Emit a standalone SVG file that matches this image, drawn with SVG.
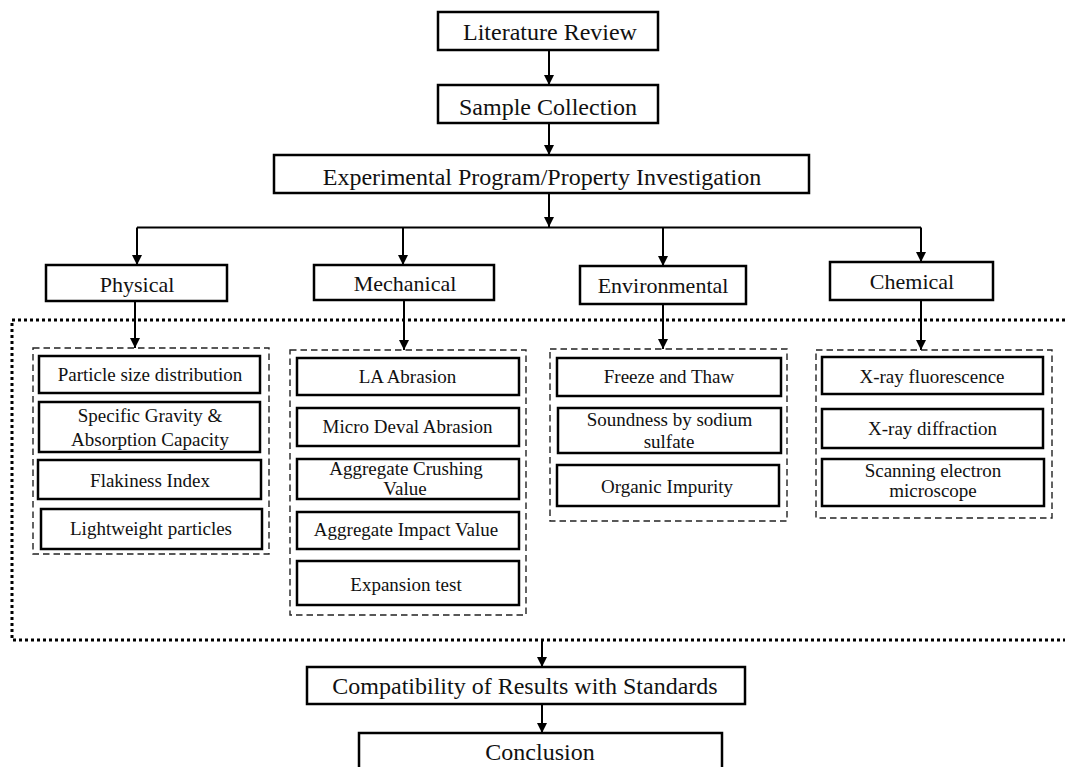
<svg xmlns="http://www.w3.org/2000/svg" width="1065" height="767" viewBox="0 0 1065 767">
<defs>
<marker id="ah" markerUnits="userSpaceOnUse" markerWidth="10" markerHeight="10" refX="10" refY="5" orient="auto">
<path d="M0,0 L10,5 L0,10 z" fill="#000"/>
</marker>
<style>
.box{fill:#fff;stroke:#000;stroke-width:2.5}
.dash{fill:none;stroke:#222;stroke-width:1.4;stroke-dasharray:6.5 4}
.dot{fill:none;stroke:#000;stroke-width:3;stroke-dasharray:3 3}
.ln{fill:none;stroke:#000;stroke-width:2}
.arr{fill:none;stroke:#000;stroke-width:2;marker-end:url(#ah)}
text{font-family:"Liberation Serif","Times New Roman",serif;fill:#111;text-anchor:middle}
.t1{font-size:24px}
.t2{font-size:22px}
.t3{font-size:19px}
</style>
</defs>
<rect width="1065" height="767" fill="#fff"/>

<g id="outer-region">
<path class="dot" d="M1065,320 H12 V640 H1065"/>
</g>

<g id="connectors">
<line class="arr" x1="549" y1="50" x2="549" y2="85"/>
<line class="arr" x1="549" y1="123" x2="549" y2="155"/>
<line class="arr" x1="549" y1="193" x2="549" y2="227"/>
<path class="ln" d="M137,227.5 H921"/>
<line class="arr" x1="137" y1="227.5" x2="137" y2="265"/>
<line class="arr" x1="403" y1="227.5" x2="403" y2="265"/>
<line class="arr" x1="663" y1="227.5" x2="663" y2="266"/>
<line class="arr" x1="921" y1="227.5" x2="921" y2="262"/>
<line class="arr" x1="135" y1="301" x2="135" y2="348"/>
<line class="arr" x1="404" y1="300" x2="404" y2="350"/>
<line class="arr" x1="663" y1="304" x2="663" y2="349"/>
<line class="arr" x1="921" y1="300" x2="921" y2="350"/>
<line class="arr" x1="542" y1="640" x2="542" y2="667"/>
<line class="arr" x1="542" y1="704" x2="542" y2="733"/>
</g>

<g id="literature-review">
<rect class="box" x="438" y="12" width="220" height="38"/>
<text class="t1" x="550" y="40">Literature Review</text>
</g>
<g id="sample-collection">
<rect class="box" x="438" y="85" width="220" height="38"/>
<text class="t1" x="548" y="115">Sample Collection</text>
</g>
<g id="experimental-program">
<rect class="box" x="274" y="155" width="535" height="38"/>
<text class="t1" x="542" y="185">Experimental Program/Property Investigation</text>
</g>

<g id="physical">
<rect class="box" x="46" y="265" width="181" height="36"/>
<text class="t2" x="137" y="292">Physical</text>
</g>
<g id="mechanical">
<rect class="box" x="314" y="265" width="180" height="35"/>
<text class="t2" x="405" y="291">Mechanical</text>
</g>
<g id="environmental">
<rect class="box" x="580" y="266" width="166" height="38"/>
<text class="t2" x="663" y="293">Environmental</text>
</g>
<g id="chemical">
<rect class="box" x="830" y="262" width="163" height="38"/>
<text class="t2" x="912" y="289">Chemical</text>
</g>

<g id="physical-tests">
<rect class="dash" x="33" y="348" width="236" height="206"/>
<g id="particle-size">
<rect class="box" x="39" y="356" width="221" height="37"/>
<text class="t3" x="150" y="381">Particle size distribution</text>
</g>
<g id="specific-gravity">
<rect class="box" x="39" y="402" width="221" height="50"/>
<text class="t3" x="150" y="421.5">Specific Gravity &amp;</text>
<text class="t3" x="150" y="445.5">Absorption Capacity</text>
</g>
<g id="flakiness">
<rect class="box" x="38" y="460" width="223" height="39"/>
<text class="t3" x="150" y="486.5">Flakiness Index</text>
</g>
<g id="lightweight">
<rect class="box" x="41" y="509" width="221" height="40"/>
<text class="t3" x="151" y="535">Lightweight particles</text>
</g>
</g>

<g id="mechanical-tests">
<rect class="dash" x="290" y="350" width="236" height="265"/>
<g id="la-abrasion">
<rect class="box" x="297" y="358" width="222" height="37"/>
<text class="t3" x="407.5" y="382.5">LA Abrasion</text>
</g>
<g id="micro-deval">
<rect class="box" x="297" y="408" width="222" height="38"/>
<text class="t3" x="407.5" y="432.5">Micro Deval Abrasion</text>
</g>
<g id="crushing-value">
<rect class="box" x="297" y="459" width="222" height="40"/>
<text class="t3" x="406" y="475">Aggregate Crushing</text>
<text class="t3" x="405" y="495">Value</text>
</g>
<g id="impact-value">
<rect class="box" x="297" y="512" width="222" height="37"/>
<text class="t3" x="406" y="535.5">Aggregate Impact Value</text>
</g>
<g id="expansion-test">
<rect class="box" x="297" y="561" width="222" height="44"/>
<text class="t3" x="406" y="591">Expansion test</text>
</g>
</g>

<g id="environmental-tests">
<rect class="dash" x="550" y="349" width="237" height="172"/>
<g id="freeze-thaw">
<rect class="box" x="557" y="358" width="224" height="38"/>
<text class="t3" x="669" y="383">Freeze and Thaw</text>
</g>
<g id="soundness">
<rect class="box" x="558" y="408" width="223" height="45"/>
<text class="t3" x="669.5" y="426">Soundness by sodium</text>
<text class="t3" x="669" y="448">sulfate</text>
</g>
<g id="organic-impurity">
<rect class="box" x="557" y="465" width="222" height="41"/>
<text class="t3" x="667" y="493">Organic Impurity</text>
</g>
</g>

<g id="chemical-tests">
<rect class="dash" x="816" y="350" width="236" height="168"/>
<g id="xrf">
<rect class="box" x="822" y="357" width="221" height="37"/>
<text class="t3" x="932" y="382.5">X-ray fluorescence</text>
</g>
<g id="xrd">
<rect class="box" x="822" y="409" width="221" height="39"/>
<text class="t3" x="932.5" y="435">X-ray diffraction</text>
</g>
<g id="sem">
<rect class="box" x="822" y="459" width="222" height="47"/>
<text class="t3" x="933" y="476.5">Scanning electron</text>
<text class="t3" x="933" y="497">microscope</text>
</g>
</g>

<g id="compatibility">
<rect class="box" x="307" y="667" width="438" height="37"/>
<text class="t1" x="525" y="694">Compatibility of Results with Standards</text>
</g>
<g id="conclusion">
<rect class="box" x="359" y="733" width="363" height="50"/>
<text class="t1" x="540" y="760">Conclusion</text>
</g>
</svg>
